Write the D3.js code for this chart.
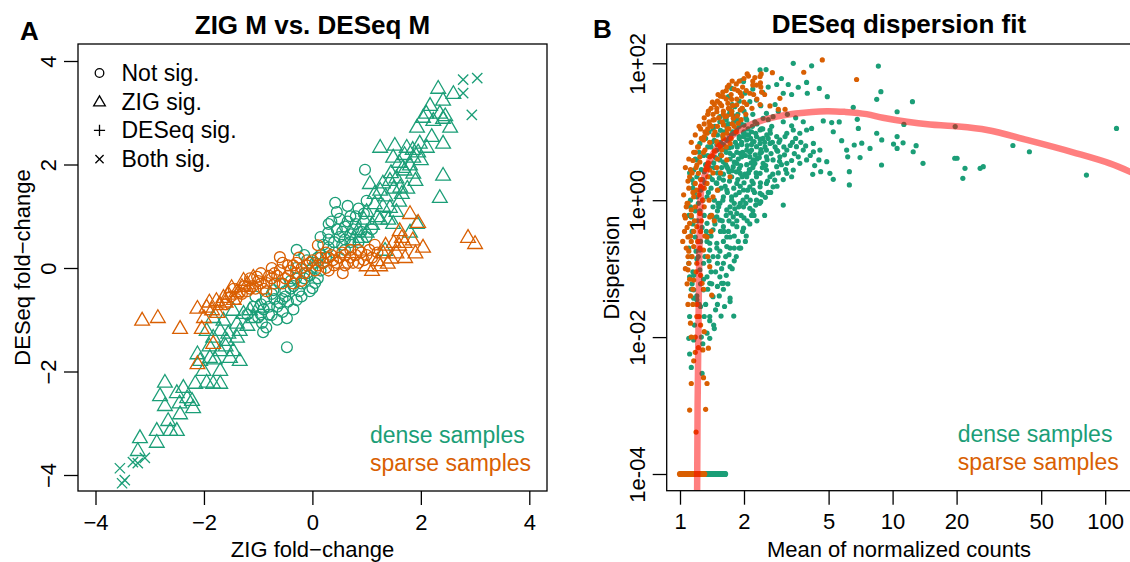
<html>
<head>
<style>
body { margin: 0; background: #fff; }
text { font-family: "Liberation Sans", Arial, Helvetica, sans-serif; }
</style>
</head>
<script src="https://d3js.org/d3.v7.min.js"></script>
<body>
<div id="chart"></div>
<script>

var denseCol = "#1b9e77", sparseCol = "#d95f02";

// ---------- Panel A: ZIG fold-change (x) vs DESeq fold-change (y) ----------
var aTicks = [-4, -2, 0, 2, 4];

var denseNotSig = [[0.97,1.9],[0.42,1.26],[0.45,1.08],[0.7,1.0],[0.29,0.68],[-0.29,0.35],[-0.47,-1.53],[-0.47,-0.97],
  [-0.91,-1.24],[-0.93,-1.06],[-0.75,-0.91],[-0.6,-0.68],[-0.29,-0.62],[0.0,-0.39],[0.05,-0.29],[-0.72,-0.43],
  [-1.09,-0.75],[0.3,0.4],[0.5,0.6],[0.6,0.8],[0.8,1.0],[0.7,0.5],[0.2,0.1],[0.1,0.2],[-0.1,-0.1],[-0.2,-0.3],
  [-0.4,-0.4],[-0.5,-0.55],[-0.8,-0.75],[-0.95,-0.9],[0.4,0.3],[0.9,0.7],[-0.6,-0.3],[-0.3,-0.2],[0.15,-0.05],
  [-0.55,-0.85],[-0.85,-0.6],[0.55,0.45],[0.35,0.9],[0.65,1.2],
  [-1.0,-0.95],[-0.9,-0.8],[-0.8,-0.9],[-0.7,-0.6],[-0.65,-0.75],[-0.5,-0.45],[-0.45,-0.65],[-0.35,-0.35],
  [-0.25,-0.45],[-0.15,-0.2],[-0.05,-0.15],[0.0,0.0],[0.05,0.1],[0.15,0.25],[0.25,0.2],[0.3,0.55],[0.4,0.5],
  [0.45,0.75],[0.55,0.7],[0.6,0.55],[0.65,0.9],[0.75,0.75],[0.8,0.85],[0.85,1.15],[0.95,1.05],[1.0,1.3],
  [0.5,0.95],[0.3,0.85],[0.2,0.45],[-0.1,0.15],[-0.3,0.0],[-0.55,-0.6],[-0.75,-0.5],[-0.85,-1.15],[-0.65,-1.0],
  [-0.35,-0.8],[-0.2,-0.55],[-0.05,-0.45],[0.1,-0.2],[-1.05,-0.55],[-1.2,-0.9],[-0.95,-0.7],[0.6,0.35],
  [0.85,0.5],[1.0,0.6],[1.1,0.75],[0.7,0.65],[-0.4,-0.25],[-0.15,0.25],[0.15,0.6]];

var denseZigSig = [[2.32,3.48],[2.17,3.15],[2.41,3.25],[2.6,3.38],[2.04,2.92],[2.23,2.86],[2.41,2.9],[2.54,2.73],
  [1.93,2.73],[2.35,3.0],[2.45,2.95],[2.1,3.0],[1.25,2.34],[1.52,2.38],[1.74,2.34],[1.98,2.42],[2.41,2.42],
  [1.49,2.15],[1.86,2.15],[2.11,2.34],[2.41,1.8],[2.35,1.37],[1.67,1.95],[1.86,1.84],[1.06,1.64],[1.25,1.51],
  [1.43,1.7],[1.62,1.57],[1.43,1.18],[1.49,0.87],[1.93,0.87],[1.55,1.75],[1.7,1.9],[1.8,2.0],[1.35,1.4],
  [1.15,1.25],[1.0,1.1],[0.95,0.95],[1.2,1.0],[1.3,1.2],[1.6,1.3],[1.75,1.55],[1.9,1.7],[1.1,0.85],[0.85,0.75],
  [1.0,0.7],[1.4,0.95],[1.55,1.1],[2.0,2.1],[1.45,1.85],[1.95,2.25],[1.7,2.2],[1.65,1.45],[1.25,0.95],[0.9,0.6],
  [0.75,0.55],[1.8,0.7],[1.34,0.35],[1.15,1.45],[1.3,1.65],[1.5,1.55],[1.6,2.05],[1.85,2.3],[2.2,2.55],
  [-3.18,-3.27],[-3.22,-3.52],[-2.87,-3.13],[-2.62,-3.13],[-2.87,-3.36],[-2.5,-3.13],[-2.66,-2.94],[-2.72,-2.2],
  [-2.81,-2.46],[-2.72,-2.65],[-2.44,-2.81],[-2.38,-2.3],[-2.22,-2.55],[-2.2,-2.69],[-2.31,-2.5],[-2.16,-2.22],
  [-1.95,-2.2],[-1.83,-2.22],[-1.7,-2.22],[-2.01,-1.97],[-1.7,-1.97],[-2.12,-1.65],[-2.07,-1.78],[-1.89,-1.72],
  [-1.7,-1.59],[-1.52,-1.72],[-1.34,-1.78],[-1.46,-1.59],[-1.58,-1.39],[-1.39,-1.33],[-1.83,-1.33],[-1.95,-1.2],
  [-1.7,-1.2],[-1.34,-1.2],[-1.83,-0.95],[-1.64,-1.0],[-1.46,-0.81],[-1.27,-0.87],[-1.09,-0.95],[-1.39,-1.06],
  [-2.5,-2.4],[-2.45,-2.6],[-1.8,-1.75],[-1.6,-1.5],[-1.9,-1.5],[-1.55,-1.25],[-1.2,-1.1],[-1.15,-0.8],[-1.0,-0.75]];

var denseBothSig = [[2.78,3.64],[3.04,3.67],[2.78,3.38],[2.94,2.96],[-3.55,-3.87],[-3.46,-4.1],[-3.31,-3.75],
  [-3.09,-3.67],[-3.22,-3.77],[-3.51,-4.16]];

var sparseNotSig = [[-0.6,0.21],[-1.02,-0.17],[-0.84,-0.29],[-0.6,-0.04],[-0.29,0.1],[0.0,0.15],[0.38,0.15],[0.56,-0.1],
  [-1.34,-0.48],[0.1,0.44],[-0.9,-0.4],[-0.7,-0.3],[-0.5,-0.2],[-0.4,-0.05],[-0.2,0.0],[-0.1,0.05],[0.1,0.05],
  [0.2,0.1],[0.3,0.2],[0.5,0.2],[0.6,0.25],[0.7,0.2],[0.8,0.25],[0.9,0.3],[1.0,0.25],[-1.1,-0.35],[-1.2,-0.45],
  [-0.8,-0.15],[-1.0,-0.25],[-0.3,-0.1],[0.4,0.05],[0.65,0.1],[0.85,0.1],[-0.45,0.05],[-0.7,-0.1],[0.25,0.3],
  [-1.5,-0.55],[-1.45,-0.4],[-1.4,-0.6],[-1.3,-0.5],[-1.25,-0.35],[-1.15,-0.4],[-1.15,-0.2],[-1.05,-0.4],
  [-0.95,-0.3],[-0.95,-0.1],[-0.85,-0.45],[-0.75,-0.2],[-0.75,0.0],[-0.65,-0.15],[-0.55,-0.3],[-0.55,0.1],
  [-0.45,-0.15],[-0.35,0.05],[-0.35,-0.3],[-0.25,0.2],[-0.15,-0.1],[-0.05,0.1],[0.05,-0.05],[0.15,0.2],
  [0.25,0.0],[0.35,0.25],[0.45,0.1],[0.55,0.3],[0.6,0.05],[0.7,0.35],[0.75,0.1],[0.85,0.35],[0.95,0.15],
  [1.05,0.35],[1.1,0.2],[1.2,0.3],[1.15,0.45],[-1.6,-0.7],[-0.2,-0.25],[0.3,-0.05]];

var sparseZigSig = [[1.80,1.06],[1.95,0.89],[1.61,0.73],[2.04,0.41],[2.87,0.6],[3.0,0.48],[1.71,0.21],[1.1,-0.04],
  [1.39,0.1],[1.5,0.5],[1.7,0.5],[1.3,0.3],[1.55,0.3],[1.2,0.15],[1.45,0.2],[1.85,0.55],[1.6,0.45],[1.0,0.05],
  [1.25,0.05],[1.9,0.3],[1.35,0.45],[1.65,0.6],
  [-3.14,-1.0],[-2.85,-0.95],[-2.44,-1.16],[-2.04,-1.16],[-2.12,-0.77],[-1.95,-0.75],[-1.77,-0.62],[-1.64,-0.56],
  [-1.49,-0.37],[-1.27,-0.23],[-1.09,-0.17],[-2.12,-1.84],[-1.83,-1.45],[-1.85,-0.8],[-1.7,-0.7],[-1.55,-0.5],
  [-1.4,-0.45],[-1.3,-0.35],[-1.2,-0.3],[-1.6,-0.65],[-1.75,-0.85],[-1.45,-0.6],[-2.0,-0.95],[-1.9,-0.65]];

var legendA = ["Not sig.", "ZIG sig.", "DESeq sig.", "Both sig."];
var legendShapes = ["circle", "triangle", "plus", "cross"];
var groupNames = ["dense samples", "sparse samples"];

// ---------- Panel B: mean of normalized counts vs dispersion ----------
var bxTicks = [1, 2, 5, 10, 20, 50, 100];
var byTicks = [1e-4, 1e-2, 1, 100];
var byLabels = ["1e-04", "1e-02", "1e+00", "1e+02"];

var denseDisp = [[3.41,100],[4.16,92],[8.57,91],[2.85,49],[3.23,49],[3.6,44.7],[3.94,52.6],[4.52,43],[4.93,32.5],
  [3.97,36.5],[3.06,36.5],[3.35,35],[8.81,38.5],[8.42,29.8],[12.4,27.5],[6.53,22.8],[10.5,19.6],[6.82,15.2],
  [4.72,14.4],[5.17,13.6],[5.61,13.9],[6.9,11.2],[11.3,12.8],[19.7,11.9],[8.42,9.5],[8.89,7.6],[10.5,8.5],
  [11.2,6.9],[10.5,5.7],[12.9,6.25],[12.5,5.1],[10.1,6.6],[7.83,5.7],[7.16,6.8],[6.6,6.4],[6.08,5.4],[7.03,4.2],
  [6.15,4.3],[5.76,7.4],[5.26,10],[8.87,3.27],[13.9,3.46],[19.6,4.1],[20.1,4.1],[21.9,2.92],[21.4,2.09],
  [25.8,2.92],[26.7,3.09],[36.8,6.3],[44,5.1],[81.6,2.33],[113,11.2],[6.26,1.67],[6.26,2.61],[5.26,2.02],
  [5.07,2.47],[4.59,2.61],[4.21,2.39],[4.9,3.65],[4.5,3.87],[4.24,5.1],[3.94,3.87],[3.6,4.3],[3.41,2.76],
  [3.18,2.47],[3.06,0.85],[3.35,2.2],[2.79,1.97],[2.74,3.87],[2.85,5.4],[2.95,7.6],[3.18,9.5],[3.41,10.6],
  [3.66,9.5],[3.94,10.6],[4.16,11.2],[3.06,14],[3.35,12.2],[2.38,10.6],[2.46,8],[2.29,6.05],[2.38,4.84],
  [2.25,3.46],[2.13,2.76],[2.29,2.2],[2.38,1.57],[2.38,1.26],[2.13,1.57],[2.06,1.12],[1.92,0.9],[2.13,0.76],
  [1.99,0.39],[1.85,0.41],[1.72,0.29],[1.72,0.107],[1.6,0.12],[1.54,0.076],[1.6,0.061],[1.38,0.061],[1.43,0.039],
  [1.72,0.037],[1.16,0.037],[1.57,0.061],[1.72,0.033],[1.79,0.0203],[1.56,0.0203],[1.38,0.0174],[1.45,0.0133],
  [1.38,0.0096],[1.34,0.0114],[1.11,0.00566],[1.13,0.0036],[1.27,0.00295],[1.1,0.0096],[1.16,0.0091],
  [1.95,55.7],[2.38,80],[2.54,81],[1.99,54],[1.69,32.5],[2.02,36.5],[2.13,27.5],[2.29,29],[2.45,37.7],[2.55,18.6],
  [2.74,16.6],[2.46,15.7],[2.06,14.9],[1.85,14.9],[2.17,10],[1.99,8.5],[1.85,6.4],[2.06,5.4],[1.95,4.3],
  [1.85,3.46],[1.66,3.09],[1.75,2.2],[1.6,1.97],[1.85,1.76],[1.66,1.41],[1.51,1.41],[1.75,1.12],[1.54,0.9],
  [1.66,0.72],[1.78,0.57],[1.49,0.57],[1.6,0.41],[1.43,0.37],[1.49,0.235],[1.66,0.21],[1.38,0.187],[1.51,0.15],
  [1.16,1.76],[1.2,1.12],[1.13,0.57],[1.18,0.29],[1.13,0.15],[1.24,0.187],[1.11,0.076],[1.16,0.049],[1.29,0.049],
  [1.24,0.096],[1.38,0.235],[1.34,0.46],[1.43,0.8],[1.34,1.12],[1.38,2.2],[1.54,3.87],[1.49,5.4],[1.24,6.75],
  [1.2,3.87],[1.16,2.76],[1.66,11.8],[1.54,16.6],[1.81,23.2],[1.75,43],
  [2.65,6.75],[2.55,4.3],[2.85,8.5],[2.65,10.6],[2.55,5.4],[2.95,4.3],[3.18,5.4],[3.53,6.05],[3.8,5.4],[4.24,6.75],
  [4.55,5.4],[3.66,3.46],[3.18,3.46],[2.85,3.09],[2.55,2.76],[2.46,3.46],[2.65,2.2],[2.55,1.76],[2.21,1.41],
  [2.06,2.2],[2.21,3.87],[1.92,2.47],[1.99,1.41],[2.29,1.0],[2.21,1.76],[1.99,0.8],[1.85,0.64],[2.38,2.47],
  [2.74,1.57],[2.17,5.4],[2.38,6.75],[2.29,8.5],[2.06,7.6],[2.13,4.3],[1.92,4.84],[1.78,3.09],[1.72,4.84],
  [1.54,2.47],[1.49,1.76],[1.6,1.12],[1.72,0.8],[1.54,0.51],[1.66,0.29],[1.29,0.12],[1.34,0.076],
  [1.12,0.3],[1.15,0.45],[1.18,0.7],[1.22,0.9],[1.25,1.4],[1.28,2.0],[1.3,2.6],[1.32,3.3],[1.35,4.5],[1.4,6],
  [1.45,7.5],[1.5,9],[1.55,10.5],[1.6,13],[1.65,15],[1.7,18],[1.75,20],[1.8,17],[1.9,12],[2.0,10],[2.1,9],
  [2.2,7],[1.95,6.5],[1.85,5],[1.75,6],[1.65,5],[1.55,7],[1.45,3],[1.4,1.5],[1.45,1.0],[1.5,0.7],[1.55,0.35],
  [1.6,0.25],[1.7,0.5],[1.8,0.9],[1.9,1.3],[2.0,1.8],[2.1,2.5],[2.2,3],[2.3,4],[2.4,5.5],[2.5,7],[2.6,8],
  [2.7,12],[2.8,6],[2.9,2.5],[3.0,3.3],[3.1,4.6],[3.3,6.3],[3.5,8],[3.7,7],[3.9,6.2],[4.1,4.5],[4.3,3.2],
  [2.6,1.3],[2.4,0.95],[2.2,0.7],[2.0,0.55],[1.8,0.3],[1.7,0.16],[1.5,0.12],[1.4,0.09],[1.35,0.3],[1.3,0.6],
  [1.25,0.25],[1.2,0.14],[1.15,0.09],[1.12,1.0],[1.14,2.0],[1.1,0.2],[1.1,0.6],[1.14,0.06],[1.2,0.035],
  [1.25,0.028],[1.3,0.02],[1.47,0.025],[1.62,0.028],[1.5,0.055],[1.65,0.08],[1.8,0.13],[1.9,0.2],[2.05,0.3],
  [2.3,0.5],[2.5,0.6],[1.9,2.9],[1.7,2.6],[1.6,3.6],[1.7,8],[1.6,6.5],[1.8,9.5],[1.9,8],[2.0,12.5],[2.2,18],
  [2.3,13],[2.45,11],[2.6,15],[2.9,20],[3.2,18],[3.5,16],[3.8,14],[2.8,25],[2.4,24],[2.0,20],[1.9,28],[2.2,42],
  [2.6,45],[3.0,60],
  [1.11,0.02],[1.13,0.05],[1.1,0.12],[1.14,0.35],[1.12,0.8],[1.15,1.5],[1.11,2.5],
  [1.17,0.015],[1.2,0.04],[1.16,0.08],[1.19,0.18],[1.21,0.5],[1.17,1.3],[1.2,2.2],[1.18,4],
  [1.26,0.01],[1.23,0.03],[1.25,0.06],[1.22,0.15],[1.27,0.4],[1.24,0.7],[1.26,2.8],[1.23,5],
  [1.28,0.008],[1.32,0.03],[1.29,0.07],[1.31,0.15],[1.33,0.35],[1.28,1.0],[1.31,1.8],[1.29,4.5],[1.32,8],
  [1.38,0.02],[1.35,0.05],[1.37,0.13],[1.34,0.25],[1.39,0.6],[1.36,1.3],[1.38,3],[1.35,6],[1.37,10],
  [1.44,0.015],[1.41,0.06],[1.43,0.15],[1.4,0.3],[1.45,0.55],[1.42,2],[1.44,3.5],[1.41,7],[1.43,11],
  [1.5,0.03],[1.47,0.09],[1.49,0.2],[1.46,0.45],[1.51,0.9],[1.48,1.8],[1.5,2.5],[1.47,4.2],[1.49,6.5],[1.46,12],
  [1.53,0.04],[1.57,0.1],[1.54,0.18],[1.58,0.5],[1.52,0.8],[1.56,1.5],[1.53,2.1],[1.57,3],[1.55,4.6],[1.59,8.5],[1.54,14],
  [1.6,0.05],[1.64,0.15],[1.61,0.35],[1.65,0.6],[1.59,1.0],[1.63,1.6],[1.6,2.4],[1.64,3.3],[1.62,5.5],[1.66,7.5],[1.61,10],[1.63,16],
  [1.68,0.06],[1.72,0.2],[1.69,0.35],[1.73,0.65],[1.67,1.3],[1.71,1.9],[1.68,2.9],[1.72,4],[1.7,5.8],[1.74,9],[1.69,13],[1.71,21],
  [1.76,0.1],[1.8,0.2],[1.77,0.45],[1.81,0.75],[1.75,1.0],[1.79,1.5],[1.76,2.7],[1.8,3.6],[1.78,4.5],[1.82,7],[1.77,10],[1.79,14],[1.76,25],
  [1.84,0.15],[1.88,0.25],[1.85,0.5],[1.89,0.8],[1.83,1.2],[1.87,2.0],[1.84,2.6],[1.88,4],[1.86,6],[1.9,8.5],[1.85,11],[1.87,18],
  [1.93,0.2],[1.97,0.35],[1.94,0.6],[1.98,1.0],[1.92,1.6],[1.96,2.2],[1.93,3.2],[1.97,5],[1.95,7],[1.99,9.5],[1.94,13],[1.96,22],
  [2.03,0.25],[2.07,0.5],[2.04,0.9],[2.08,1.4],[2.02,2.4],[2.06,3.3],[2.03,4.5],[2.07,6.3],[2.05,9],[2.09,11],[2.04,16],
  [2.13,0.45],[2.17,0.6],[2.14,1.0],[2.18,1.9],[2.12,2.8],[2.16,3.5],[2.13,5],[2.17,6.5],[2.15,8],[2.19,12],
  [2.23,0.6],[2.27,0.85],[2.24,1.3],[2.28,2.5],[2.22,3.3],[2.26,4.6],[2.23,7.2],[2.27,9.5],[2.25,14],
  [2.37,0.9],[2.43,1.2],[2.39,1.8],[2.44,3],[2.36,4.2],[2.42,5],[2.38,7.8],[2.41,11],
  [2.52,1.1],[2.58,1.9],[2.53,3.2],[2.57,3.9],[2.51,6],[2.56,9],
  [2.67,1.3],[2.73,2.4],[2.68,4.8],[2.72,7],[2.66,9.5],
  [2.86,1.6],[2.94,3.7],[2.88,5.2],[2.92,7],
  [3.06,2.0],[3.14,2.8],[3.08,6],[3.12,8.5],
  [3.35,3.8],[3.45,4.8],[3.38,7]];

var sparseDisp = [[4.67,112],[6.77,58],[3.82,74],[2.72,73],[2.38,64],[2.25,62],[2.29,48],[2.95,30.8],[2.65,23.8],
  [2.9,21.3],[3.12,21.3],[1.92,37.2],[2.13,36.5],[1.6,32.5],[1.75,29.8],[1.54,26],[1.85,24.7],[1.69,22],
  [1.92,20.8],[1.49,19.6],[1.63,16.6],[1.78,15.7],[1.43,14.9],[1.38,12.6],[1.6,12.6],[1.88,13.3],[1.46,10],
  [1.34,9.5],[1.66,9.5],[1.29,7.6],[1.49,7.15],[1.72,6.75],[1.31,5.4],[1.38,4.3],[1.24,4.3],[1.57,5.4],
  [1.2,3.27],[1.34,3.09],[1.66,3.87],[1.22,2.47],[1.38,2.76],[1.72,2.2],[1.18,1.76],[1.34,1.76],[1.16,1.12],
  [1.28,1.0],[1.43,1.12],[1.13,0.72],[1.24,0.64],[1.38,0.57],[1.11,0.46],[1.2,0.41],[1.34,0.29],[1.09,0.29],
  [1.16,0.21],[1.29,0.187],[1.09,0.15],[1.2,0.12],[1.38,0.107],[1.09,0.096],[1.16,0.068],[1.27,0.061],[1.41,0.041],
  [1.29,0.00255],[1.34,0.0021],[1.13,0.0021],[1.11,0.00086],[1.32,0.00088],[1.19,0.00041],[1.36,0.0069],
  [1.16,0.0045],[1.28,0.0065],
  [1.25,11],[1.3,13],[1.35,18],[1.4,22],[1.45,25],[1.5,28],[1.55,33],[1.65,40],[1.7,48],[1.8,42],[1.9,55],
  [2.0,60],[2.1,65],[2.2,55],[2.4,45],[2.5,35],[2.3,30],[2.0,27],[1.75,20],[1.6,18],[1.45,15],[1.3,8.5],
  [1.22,6],[1.18,5],[1.15,3.8],[1.12,2.8],[1.1,1.5],[1.08,0.9],[1.06,0.55],[1.05,0.35],[1.07,0.2],[1.1,0.12],
  [1.08,0.06],[1.12,0.04],[1.15,0.03],[1.2,0.02],[1.25,0.015],[1.18,0.01],[1.22,0.007],[1.3,0.012],[1.12,0.016],
  [1.5,4],[1.45,5.2],[1.55,6],[1.6,8],[1.7,11],[1.8,12],[1.35,2.2],[1.25,1.6],[1.3,0.8],[1.45,0.5],[1.5,1.4],
  [1.55,2.5],[1.4,0.35],[1.25,0.35],[1.17,0.5],[1.13,0.25],
  [1.03,0.25],[1.05,0.6],[1.04,1.2],
  [1.06,0.1],[1.08,0.4],[1.07,0.8],[1.09,1.9],[1.06,3],
  [1.09,0.03],[1.11,0.07],[1.1,0.18],[1.12,0.3],[1.09,0.9],[1.11,2.2],[1.1,4],
  [1.13,0.01],[1.15,0.05],[1.14,0.15],[1.16,0.35],[1.13,0.6],[1.15,1.3],[1.14,2.5],[1.16,5],[1.13,7],
  [1.18,0.006],[1.2,0.03],[1.19,0.09],[1.21,0.25],[1.18,0.8],[1.2,1.4],[1.19,3],[1.21,6],[1.18,9],
  [1.23,0.02],[1.25,0.08],[1.24,0.2],[1.26,0.5],[1.23,1.2],[1.25,2],[1.24,3.6],[1.26,8],[1.23,12],
  [1.29,0.05],[1.31,0.3],[1.3,1.5],[1.32,2.8],[1.29,5],[1.31,10],[1.3,16],
  [1.35,0.15],[1.37,1.0],[1.36,3.5],[1.38,7],[1.35,11],[1.37,14],[1.36,20],
  [1.41,0.6],[1.43,2.5],[1.42,4.5],[1.44,9],[1.41,12],[1.43,18],[1.42,27],
  [1.49,3],[1.51,6.5],[1.5,12],[1.52,16],[1.49,22],[1.51,35],
  [1.57,4.5],[1.59,9],[1.58,14],[1.6,20],[1.57,24],[1.59,38],
  [1.65,6],[1.67,11],[1.66,17],[1.68,26],[1.65,30],[1.67,45],
  [1.74,8],[1.76,13],[1.75,18],[1.77,24],[1.74,35],[1.76,55],
  [1.84,10],[1.86,17],[1.85,30],[1.87,40],[1.84,50],
  [1.94,15],[1.96,22],[1.95,33],[1.97,45],
  [2.04,18],[2.06,25],[2.05,40],[2.07,70],
  [2.18,22],[2.22,35],[2.2,48],
  [2.38,25],[2.42,38],[2.39,52],[2.41,70]];

// genes with zero dispersion, drawn on the 1e-04 floor
var sparseFloor = [1.0,1.01,1.02,1.03,1.04,1.05,1.06,1.07,1.08,1.09,1.1,1.11,1.12,1.13,1.14,1.15,1.16,1.17,1.18,
  1.19,1.2,1.21,1.22,1.23,1.24,1.25,1.26,1.27,1.28,1.29,1.3];
var denseFloor = [1.28,1.3,1.31,1.32,1.33,1.34,1.35,1.36,1.37,1.38,1.39,1.4,1.41,1.42,1.43,1.44,1.45,1.46,1.47,
  1.48,1.49,1.5,1.51,1.52,1.53,1.54,1.55,1.56,1.57,1.58,1.59,1.6,1.61,1.62,1.63];
var floorDisp = 1e-4;

// fitted dispersion curve
var fitMean = [1.2,1.205,1.21,1.22,1.23,1.24,1.25,1.265,1.3,1.38,1.5,1.66,1.9,2.13,2.5,2.85,3.5,4.9,6,7.55,9,11.7,15,19.2,27.8,42.8,73.2,105,135];
var fitDisp = [1e-5,1e-4,1e-3,1e-2,0.1,0.5,1.1,1.6,2.2,3.87,5.8,7.6,10.5,12.6,15,16.6,18.5,20,19.5,18.1,16,14,12.8,12.1,10.6,7.6,4.85,3.45,2.5];

var svg = d3.select("#chart").append("svg")
    .attr("width", 1130)
    .attr("height", 562)
    .style("background", "#fff");

function minus(d) { return d < 0 ? "\u2212" + Math.abs(d) : String(d); }

function symbol(g, shape, s, col) {
  if (shape == "circle") {
    g.append("circle").attr("r", s).attr("fill", "none").attr("stroke", col);
  } else if (shape == "triangle") {
    var h = s * 2.2;
    g.append("path").attr("d", "M0," + (-h * 0.62) + "L" + (h * 0.62) + "," + (h * 0.45) + "L" + (-h * 0.62) + "," + (h * 0.45) + "Z")
      .attr("fill", "none").attr("stroke", col);
  } else if (shape == "plus") {
    var p = s * 1.3;
    g.append("path").attr("d", "M" + (-p) + ",0H" + p + "M0," + (-p) + "V" + p).attr("stroke", col);
  } else {
    var c = s * 0.95;
    g.append("path").attr("d", "M" + (-c) + "," + (-c) + "L" + c + "," + c + "M" + (-c) + "," + c + "L" + c + "," + (-c)).attr("stroke", col);
  }
}

// ================= Panel A =================
var boxA = {left: 78, right: 547, top: 44, bottom: 491};
var xA = d3.scaleLinear().domain([-4, 4]).range([95.5, 529.3]);
var yA = d3.scaleLinear().domain([-4, 4]).range([475, 61]);

var gA = svg.append("g");

function drawA(data, shape, col) {
  gA.selectAll(null)
    .data(data)
    .enter()
    .append("g")
      .attr("transform", function(d) { return "translate(" + xA(d[0]) + "," + yA(d[1]) + ")"; })
      .attr("stroke-width", 1.3)
      .each(function() { symbol(d3.select(this), shape, 5.4, col); });
}

drawA(denseNotSig, "circle", denseCol);
drawA(denseZigSig, "triangle", denseCol);
drawA(denseBothSig, "cross", denseCol);
drawA(sparseNotSig, "circle", sparseCol);
drawA(sparseZigSig, "triangle", sparseCol);

gA.append("rect")
    .attr("x", boxA.left).attr("y", boxA.top)
    .attr("width", boxA.right - boxA.left).attr("height", boxA.bottom - boxA.top)
    .attr("fill", "none").attr("stroke", "#000").attr("stroke-width", 1.3);

var axA = gA.append("g")
    .attr("transform", "translate(0," + boxA.bottom + ")")
    .call(d3.axisBottom(xA).tickValues(aTicks).tickSize(14).tickPadding(9).tickFormat(minus));

var ayA = gA.append("g")
    .attr("transform", "translate(" + boxA.left + ",0)")
    .call(d3.axisLeft(yA).tickValues(aTicks).tickSize(14).tickFormat(minus));

// legend for symbols
var legA = gA.selectAll(".legA")
    .data(legendA)
    .enter()
    .append("g")
      .attr("transform", function(d, i) { return "translate(99.5," + (81 + i * 28.7) + ")"; });

legA.append("g")
    .attr("transform", "translate(0,-8)")
    .attr("stroke-width", 1.3)
    .each(function(d, i) { symbol(d3.select(this), legendShapes[i], 4.3, "#000"); });

legA.append("text")
    .attr("x", 22)
    .style("font-size", "23px")
    .text(function(d) { return d; });

gA.selectAll(".grpA")
    .data(groupNames)
    .enter()
    .append("text")
      .attr("x", 370)
      .attr("y", function(d, i) { return 443 + i * 27.5; })
      .style("font-size", "23px")
      .style("fill", function(d, i) { return i == 0 ? denseCol : sparseCol; })
      .text(function(d) { return d; });

gA.append("text").attr("x", 312.5).attr("y", 34).attr("text-anchor", "middle")
    .style("font-size", "26px").style("font-weight", "bold").text("ZIG M vs. DESeq M");
gA.append("text").attr("x", 20).attr("y", 40)
    .style("font-size", "26px").style("font-weight", "bold").text("A");
gA.append("text").attr("x", 312.5).attr("y", 557).attr("text-anchor", "middle")
    .style("font-size", "22px").text("ZIG fold\u2212change");
gA.append("text").attr("transform", "translate(30,267.5) rotate(-90)").attr("text-anchor", "middle")
    .style("font-size", "22px").text("DESeq fold\u2212change");

// ================= Panel B =================
var boxB = {left: 666.7, right: 1132, top: 44, bottom: 490.7};
var xB = d3.scaleLog().domain([1, 100]).range([680, 1105.2]);
var yB = d3.scaleLog().domain([1e-4, 100]).range([474, 63.3]);

var gB = svg.append("g");

svg.append("defs").append("clipPath").attr("id", "clipB")
  .append("rect")
    .attr("x", boxB.left).attr("y", boxB.top)
    .attr("width", boxB.right - boxB.left).attr("height", boxB.bottom - boxB.top);

var pts = gB.append("g").attr("clip-path", "url(#clipB)");

pts.selectAll(".fd")
    .data(denseFloor)
    .enter()
    .append("circle")
      .attr("cx", function(d) { return xB(d); })
      .attr("cy", yB(floorDisp))
      .attr("r", 3.1)
      .style("fill", denseCol);

pts.selectAll(".fs")
    .data(sparseFloor)
    .enter()
    .append("circle")
      .attr("cx", function(d) { return xB(d); })
      .attr("cy", yB(floorDisp))
      .attr("r", 3.1)
      .style("fill", sparseCol);

pts.selectAll(".dd")
    .data(denseDisp)
    .enter()
    .append("circle")
      .attr("cx", function(d) { return xB(d[0]); })
      .attr("cy", function(d) { return yB(d[1]); })
      .attr("r", 2.6)
      .style("fill", denseCol);

pts.selectAll(".sd")
    .data(sparseDisp)
    .enter()
    .append("circle")
      .attr("cx", function(d) { return xB(d[0]); })
      .attr("cy", function(d) { return yB(d[1]); })
      .attr("r", 2.6)
      .style("fill", sparseCol);

var fitLine = d3.line()
    .x(function(d, i) { return xB(fitMean[i]); })
    .y(function(d, i) { return yB(fitDisp[i]); })
    .curve(d3.curveCatmullRom.alpha(0.5));

pts.append("path")
    .attr("d", fitLine(fitMean))
    .attr("fill", "none")
    .attr("stroke", "#ff0000")
    .attr("stroke-opacity", 0.5)
    .attr("stroke-width", 6.5);

gB.append("rect")
    .attr("x", boxB.left).attr("y", boxB.top)
    .attr("width", boxB.right - boxB.left).attr("height", boxB.bottom - boxB.top)
    .attr("fill", "none").attr("stroke", "#000").attr("stroke-width", 1.3);

var axB = gB.append("g")
    .attr("transform", "translate(0," + boxB.bottom + ")")
    .call(d3.axisBottom(xB).tickValues(bxTicks).tickSize(14).tickPadding(9).tickFormat(d3.format("d")));

var ayB = gB.append("g")
    .attr("transform", "translate(" + boxB.left + ",0)")
    .call(d3.axisLeft(yB).tickValues(byTicks).tickSize(14).tickFormat(function(d, i) { return byLabels[i]; }));

gB.selectAll(".grpB")
    .data(groupNames)
    .enter()
    .append("text")
      .attr("x", 957.7)
      .attr("y", function(d, i) { return 442 + i * 28; })
      .style("font-size", "23px")
      .style("fill", function(d, i) { return i == 0 ? denseCol : sparseCol; })
      .text(function(d) { return d; });

gB.append("text").attr("x", 899).attr("y", 33).attr("text-anchor", "middle")
    .style("font-size", "26px").style("font-weight", "bold").text("DESeq dispersion fit");
gB.append("text").attr("x", 593).attr("y", 38)
    .style("font-size", "26px").style("font-weight", "bold").text("B");
gB.append("text").attr("x", 899).attr("y", 557).attr("text-anchor", "middle")
    .style("font-size", "22px").text("Mean of normalized counts");
gB.append("text").attr("transform", "translate(619,267.5) rotate(-90)").attr("text-anchor", "middle")
    .style("font-size", "22px").text("Dispersion");

// shared axis styling
[axA, ayA, axB, ayB].forEach(function(ax) {
  ax.select(".domain").remove();
  ax.selectAll(".tick line").attr("stroke", "#000").attr("stroke-width", 1.3);
  ax.selectAll(".tick text")
    .style("font-size", "22px")
    .style("font-family", "'Liberation Sans', Arial, sans-serif")
    .attr("fill", "#000");
});

[ayA, ayB].forEach(function(ax) {
  ax.selectAll(".tick text")
    .attr("transform", "rotate(-90)")
    .attr("x", 0)
    .attr("y", -22)
    .attr("dy", 0)
    .style("text-anchor", "middle");
});
</script>
</body>
</html>
